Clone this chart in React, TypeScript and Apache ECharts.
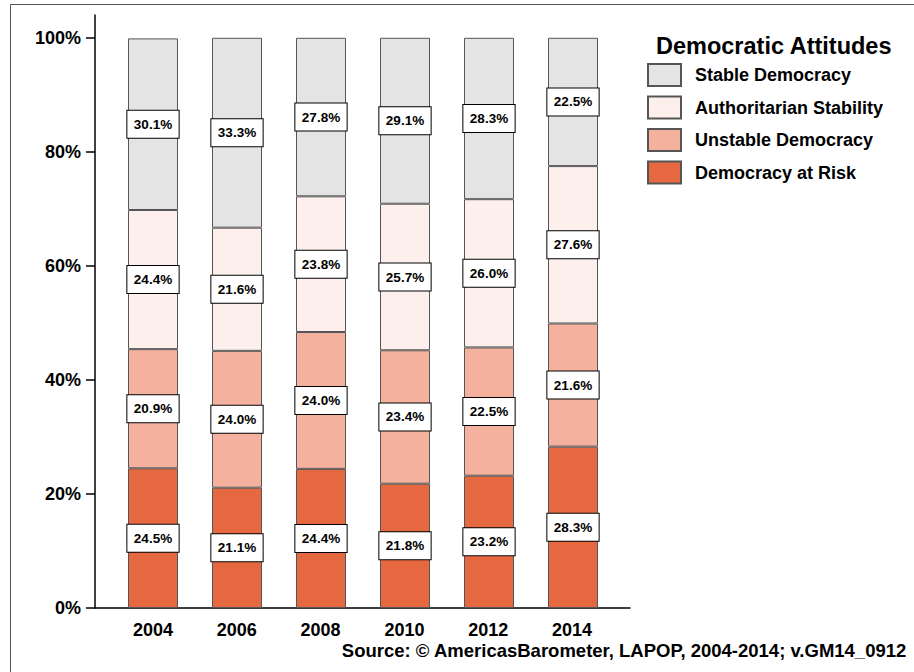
import React, { useEffect, useRef } from "react";
import * as echarts from "echarts";

const years = [2004, 2006, 2008, 2010, 2012, 2014];
const democracyAtRisk = [24.5, 21.1, 24.4, 21.8, 23.2, 28.3];
const unstableDemocracy = [20.9, 24.0, 24.0, 23.4, 22.5, 21.6];
const authoritarianStability = [24.4, 21.6, 23.8, 25.7, 26.0, 27.6];
const stableDemocracy = [30.1, 33.3, 27.8, 29.1, 28.3, 22.5];
const yTicks = [0, 20, 40, 60, 80, 100];
const legendTitle = "Democratic Attitudes";
const sourceText = "Source: \u00A9 AmericasBarometer, LAPOP, 2004-2014; v.GM14_0912";

const seriesDefs = [
  { name: "Democracy at Risk", values: democracyAtRisk, color: "#e66841" },
  { name: "Unstable Democracy", values: unstableDemocracy, color: "#f4b29e" },
  { name: "Authoritarian Stability", values: authoritarianStability, color: "#fdefeb" },
  { name: "Stable Democracy", values: stableDemocracy, color: "#e4e4e4" },
];

const FONT = "'Liberation Sans', Arial, sans-serif";
const boldText = (size: number) => ({ fontFamily: FONT, fontSize: size, fontWeight: "bold" as const, color: "#000" });

export default function App() {
  const ref = useRef<HTMLDivElement>(null);
  useEffect(() => {
    if (!ref.current) return;
    const chart = echarts.init(ref.current, null, { renderer: "svg" });
    chart.setOption({
      animation: false,
      backgroundColor: "#ffffff",
      textStyle: { fontFamily: FONT },
      title: {
        text: legendTitle,
        left: 651,
        top: 29,
        textStyle: boldText(23.5),
      },
      legend: {
        orient: "vertical",
        left: 647,
        top: 63,
        padding: 0,
        icon: "rect",
        itemWidth: 33,
        itemHeight: 22,
        itemGap: 8.5,
        data: ["Stable Democracy", "Authoritarian Stability", "Unstable Democracy", "Democracy at Risk"],
        textStyle: { ...boldText(18), padding: [0, 0, 0, 9] },
      },
      grid: [
        { left: 111, right: 914 - 615, top: 15, bottom: 672 - 608 },
        { left: 95, right: 914 - 630, top: 15, bottom: 672 - 608 },
      ],
      xAxis: [
        {
          type: "category",
          gridIndex: 0,
          data: years.map(String),
          show: false,
        },
        {
          type: "value",
          gridIndex: 1,
          min: 2002.616,
          max: 2015.384,
          splitLine: { show: false },
          axisTick: { show: false },
          axisLine: { show: true, lineStyle: { color: "#000", width: 1.5 } },
          axisLabel: {
            customValues: years,
            formatter: (v: number) => String(v),
            margin: 13,
            ...boldText(18),
          },
        },
      ],
      yAxis: [
        {
          type: "value",
          gridIndex: 0,
          min: 0,
          max: 104,
          show: false,
          splitLine: { show: false },
        },
        {
          type: "value",
          gridIndex: 1,
          min: 0,
          max: 104,
          splitLine: { show: false },
          axisLine: { show: true, lineStyle: { color: "#000", width: 1.5 } },
          axisTick: { show: true, customValues: yTicks, length: 9, lineStyle: { color: "#000", width: 1.5 } },
          axisLabel: {
            customValues: yTicks,
            formatter: (v: number) => v + "%",
            margin: 14,
            ...boldText(18),
          },
        },
      ],
      series: seriesDefs.map((s) => ({
        name: s.name,
        type: "bar",
        xAxisIndex: 0,
        yAxisIndex: 0,
        stack: "total",
        barWidth: 50,
        data: s.values,
        itemStyle: { color: s.color, borderColor: "#555", borderWidth: 1 },
        label: {
          show: true,
          position: "inside",
          formatter: (p: any) => Number(p.value).toFixed(1) + "%",
          ...boldText(13.5),
          backgroundColor: "#fff",
          borderColor: "#000",
          borderWidth: 1,
          padding: [6.5, 6.5],
        },
      })),
      graphic: [
        {
          type: "rect",
          shape: { x: 10.5, y: 4.5, width: 1000, height: 1000 },
          style: { fill: "none", stroke: "#555", lineWidth: 1 },
          silent: true,
        },
        {
          type: "text",
          right: 7,
          top: 641,
          style: { text: sourceText, font: "bold 18.5px " + FONT, fill: "#000" },
        },
      ],
    });
    return () => chart.dispose();
  }, []);
  return (
    <div
      ref={ref}
      style={{ position: "fixed", left: 0, top: 0, width: 914, height: 672 }}
    />
  );
}
